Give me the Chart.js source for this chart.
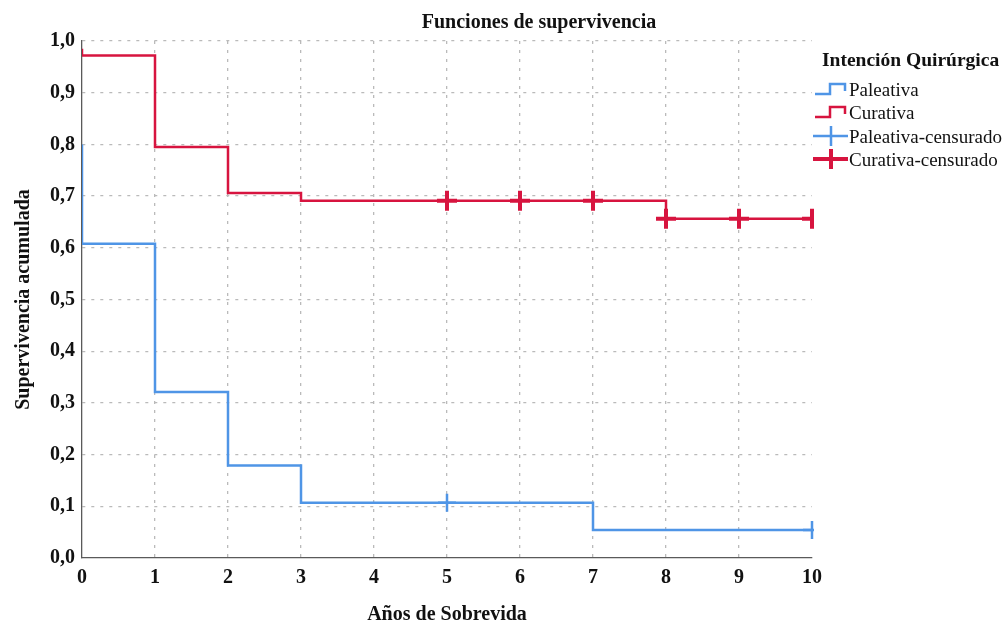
<!DOCTYPE html>
<html>
<head>
<meta charset="utf-8">
<script src="https://cdn.jsdelivr.net/npm/chart.js@4/dist/chart.umd.min.js"></script>
<style>
  html, body { margin: 0; padding: 0; background: #ffffff; }
  #wrap { width: 1008px; height: 622px; position: relative; }
</style>
</head>
<body>
<div id="wrap"><canvas id="c" width="1008" height="622"></canvas></div>
<script>
// ---- Data ----
const chartTitle = "Funciones de supervivencia";
const xAxisTitle = "Años de Sobrevida";
const yAxisTitle = "Supervivencia acumulada";
const legendTitle = "Intención Quirúrgica";
const seriesNames = ["Paleativa", "Curativa", "Paleativa-censurado", "Curativa-censurado"];

const xTicks = [0, 1, 2, 3, 4, 5, 6, 7, 8, 9, 10];
const yTicks = [0, 0.1, 0.2, 0.3, 0.4, 0.5, 0.6, 0.7, 0.8, 0.9, 1.0];

// Kaplan-Meier step curves (time, cumulative survival)
const paleativaTime = [0, 0, 1, 2, 3, 7, 10];
const paleativaSurv = [0.80, 0.608, 0.321, 0.179, 0.107, 0.054, 0.054];
const curativaTime  = [0, 0, 1, 2, 3, 8, 10];
const curativaSurv  = [0.985, 0.972, 0.795, 0.706, 0.691, 0.656, 0.656];

// Censored observations
const paleativaCensTime = [5, 10];
const paleativaCensSurv = [0.107, 0.054];
const curativaCensTime  = [5, 6, 7, 8, 9, 10];
const curativaCensSurv  = [0.691, 0.691, 0.691, 0.656, 0.656, 0.656];

const BLUE = "#4f95e6";
const RED = "#d7143f";
const SERIF = "'Liberation Serif', 'DejaVu Serif', serif";

const pts = (xs, ys) => xs.map((x, i) => ({ x: x, y: ys[i] }));

const overlay = {
  id: 'overlay',
  afterDraw(chart) {
    const ctx = chart.ctx;
    const ca = chart.chartArea;
    ctx.save();
    ctx.fillStyle = "#111";
    ctx.textBaseline = "middle";
    // main title
    ctx.font = "bold 20px " + SERIF;
    ctx.textAlign = "center";
    ctx.fillText(chartTitle, 539, 23);
    // x axis title
    ctx.font = "bold 20px " + SERIF;
    ctx.fillText(xAxisTitle, (ca.left + ca.right) / 2, 615);
    // y axis title
    ctx.save();
    ctx.translate(24, (ca.top + ca.bottom) / 2);
    ctx.rotate(-Math.PI / 2);
    ctx.fillText(yAxisTitle, 0, 0);
    ctx.restore();
    // legend
    ctx.font = "bold 19.5px " + SERIF;
    ctx.textAlign = "left";
    ctx.fillText(legendTitle, 822, 61);
    ctx.font = "19px " + SERIF;
    const rows = [91, 114, 138, 161];
    const cols = [BLUE, RED, BLUE, RED];
    for (let i = 0; i < 4; i++) {
      const y = rows[i];
      ctx.strokeStyle = cols[i];
      if (i < 2) {
        ctx.lineWidth = 2.5;
        ctx.beginPath();
        ctx.moveTo(815, y + 3);
        ctx.lineTo(830, y + 3);
        ctx.lineTo(830, y - 7);
        ctx.lineTo(845, y - 7);
        ctx.lineTo(845, y);
        ctx.stroke();
      } else {
        ctx.lineWidth = i === 2 ? 2.5 : 4;
        const cy = y - 2;
        ctx.beginPath();
        ctx.moveTo(813, cy);
        ctx.lineTo(848, cy);
        ctx.moveTo(831, cy - 10);
        ctx.lineTo(831, cy + 10);
        ctx.stroke();
      }
      ctx.fillStyle = "#111";
      ctx.fillText(seriesNames[i], 849, y);
    }
    ctx.restore();
  }
};

const tickFont = { family: SERIF, size: 20, weight: 'bold' };

new Chart(document.getElementById('c'), {
  type: 'line',
  data: {
    datasets: [
      {
        label: seriesNames[0],
        data: pts(paleativaTime, paleativaSurv),
        borderColor: BLUE, borderWidth: 2.5,
        stepped: 'before', pointRadius: 0, fill: false, order: 2
      },
      {
        label: seriesNames[1],
        data: pts(curativaTime, curativaSurv),
        borderColor: RED, borderWidth: 2.5,
        stepped: 'before', pointRadius: 0, fill: false, order: 1
      },
      {
        type: 'scatter',
        label: seriesNames[2],
        data: pts(paleativaCensTime, paleativaCensSurv),
        showLine: false,
        pointStyle: 'cross', pointRadius: 9,
        pointBorderColor: BLUE, pointBorderWidth: 2.5,
        borderColor: BLUE, backgroundColor: BLUE,
        clip: { left: false, top: false, right: 2, bottom: false }
      },
      {
        type: 'scatter',
        label: seriesNames[3],
        data: pts(curativaCensTime, curativaCensSurv),
        showLine: false,
        pointStyle: 'cross', pointRadius: 10,
        pointBorderColor: RED, pointBorderWidth: 4,
        borderColor: RED, backgroundColor: RED,
        clip: { left: false, top: false, right: 2, bottom: false }
      }
    ]
  },
  options: {
    responsive: false,
    animation: false,
    events: [],
    layout: { padding: { top: 41, right: 196, left: 0, bottom: 0 } },
    plugins: {
      legend: { display: false },
      title: { display: false },
      tooltip: { enabled: false }
    },
    scales: {
      x: {
        type: 'linear', min: 0, max: 10,
        afterFit(s) { s.height = 64; },
        afterBuildTicks(s) { s.ticks = xTicks.map(v => ({ value: v })); },
        ticks: { font: tickFont, color: '#111', padding: 8, maxRotation: 0, autoSkip: false },
        grid: {
          drawTicks: false,
          color: ctx => (ctx.tick && (ctx.tick.value === 0 || ctx.tick.value === 10)) ? 'rgba(0,0,0,0)' : '#bababa',
          lineWidth: 1.3
        },
        border: { display: true, color: '#5a5a5a', width: 1.3, dash: [3, 6] }
      },
      y: {
        type: 'linear', min: 0, max: 1,
        afterFit(s) { s.width = 82; },
        afterBuildTicks(s) { s.ticks = yTicks.map(v => ({ value: v })); },
        ticks: {
          font: tickFont, color: '#111', padding: 7, autoSkip: false,
          callback: v => v.toFixed(1).replace('.', ',')
        },
        grid: {
          drawTicks: false,
          color: ctx => (ctx.tick && ctx.tick.value === 0) ? 'rgba(0,0,0,0)' : '#bababa',
          lineWidth: 1.3
        },
        border: { display: true, color: '#5a5a5a', width: 1.3, dash: [3, 6] }
      }
    }
  },
  plugins: [overlay]
});
</script>
</body>
</html>
